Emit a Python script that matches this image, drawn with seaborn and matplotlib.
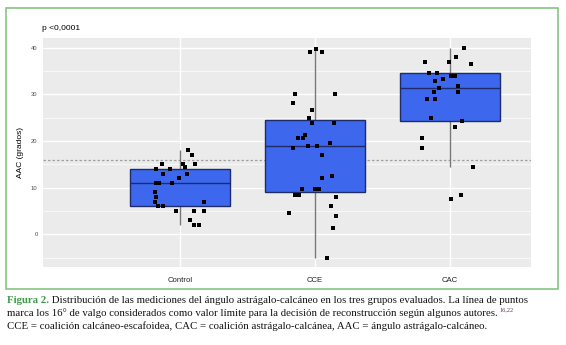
import numpy as np
import pandas as pd
import matplotlib
matplotlib.use("Agg")
import matplotlib.pyplot as plt
from matplotlib.patches import Rectangle
from matplotlib.ticker import MultipleLocator
import seaborn as sns

# ---- data ----
categories = ["Control", "CCE", "CAC"]

control_values = [18, 17, 15, 15, 15, 14.4, 14, 14, 13, 13, 12, 11, 11, 11, 9, 8, 7, 7,
                  6, 6, 5, 5, 5, 3, 2, 2]
control_jitter = [0.057, 0.091, 0.020, 0.111, -0.131, 0.037, -0.180, -0.074, -0.124, 0.052,
                  -0.005, -0.180, -0.156, -0.059, -0.185, -0.180, -0.185, 0.178, -0.161,
                  -0.126, -0.032, 0.104, 0.180, 0.074, 0.106, 0.139]

cce_values = [39.1, 39.7, 39.1, 30.0, 28.1, 30.0, 26.6, 25.0, 23.9, 23.9, 20.7, 20.7, 21.2,
              18.6, 19.0, 19.0, 19.5, 17.0, 12.0, 12.4, 9.8, 9.8, 9.8, 8.4, 8.4, 8.1, 4.5,
              6.0, 4.0, 1.4, -5.0]
cce_jitter = [-0.035, 0.012, 0.052, -0.146, -0.161, 0.148, -0.022, -0.040, -0.020, 0.143,
              -0.122, -0.090, -0.072, -0.163, -0.053, 0.017, 0.111, 0.054, 0.052, 0.126,
              -0.094, 0.002, 0.034, -0.146, -0.114, 0.158, -0.188, 0.123, 0.158, 0.131, 0.091]

cac_values = [40.0, 38.0, 36.9, 36.9, 36.5, 34.5, 34.5, 33.9, 33.9, 33.4, 32.9, 31.9, 31.3,
              30.5, 30.5, 29.0, 29.0, 25.0, 24.4, 23.0, 20.6, 18.6, 14.5, 8.4, 7.5]
cac_jitter = [0.104, 0.050, -0.183, -0.005, 0.156, -0.157, -0.096, 0.011, 0.039, -0.051,
              -0.107, 0.060, -0.076, -0.119, 0.059, -0.166, -0.113, -0.141, 0.091, 0.039,
              -0.204, -0.207, 0.173, 0.085, 0.011]

y_ticks = [0, 10, 20, 30, 40]
threshold = 16
title_text = "p <0,0001"
y_label = "AAC (grados)"

caption_head = "Figura 2."
caption_line1 = ("Distribución de las mediciones del ángulo astrágalo-calcáneo en los tres grupos "
                 "evaluados. La línea de puntos")
caption_line2 = ("marca los 16° de valgo considerados como valor límite para la decisión de "
                 "reconstrucción según algunos autores.")
caption_sup = "16,22"
caption_line3 = ("CCE = coalición calcáneo-escafoidea, CAC = coalición astrágalo-calcánea, "
                 "AAC = ángulo astrágalo-calcáneo.")

# ---- build table ----
groups = {"Control": (control_values, control_jitter),
          "CCE": (cce_values, cce_jitter),
          "CAC": (cac_values, cac_jitter)}
rows = []
for i, cat in enumerate(categories):
    vals, jit = groups[cat]
    for v, j in zip(vals, jit):
        rows.append({"grupo": cat, "aac": v, "pos": i + j})
df = pd.DataFrame(rows)

# ---- figure ----
sns.set_style("white")
plt.rcParams["font.family"] = ["Liberation Sans", "DejaVu Sans"]

W, H = 566, 345
fig = plt.figure(figsize=(W / 100, H / 100), dpi=100)
fig.patch.set_facecolor("white")

left, right, top, bottom = 42.7, 530.7, 38.0, 266.7
ax = fig.add_axes([left / W, 1 - bottom / H, (right - left) / W, (bottom - top) / H])
ax.set_facecolor("#EBEBEB")

sns.boxplot(data=df, x="grupo", y="aac", order=categories, width=0.74, ax=ax,
            showfliers=False, whis=1.5,
            boxprops=dict(facecolor="#3D68EE", edgecolor="#1E2B66", linewidth=1.0, zorder=3),
            medianprops=dict(color="#1E2B66", linewidth=1.0, zorder=4),
            whiskerprops=dict(color="#777777", linewidth=1.0, zorder=2),
            capprops=dict(linewidth=0))

ax.axhline(threshold, color="#A0A0A0", linestyle=(0, (2, 1.6)), linewidth=0.9, zorder=1.5)

sns.scatterplot(data=df, x="pos", y="aac", ax=ax, color="black", s=5.5, linewidth=0,
                marker="s", zorder=5, legend=False)

ax.set_xlim(-1.017, 2.6)
ax.set_ylim(-6.95, 42.1)
ax.set_xticks(range(len(categories)))
ax.set_xticklabels(categories)
ax.set_yticks(y_ticks)
ax.yaxis.set_minor_locator(MultipleLocator(5))
ax.grid(which="major", color="white", linewidth=1.0, zorder=0)
ax.grid(which="minor", axis="y", color="white", linewidth=0.5, zorder=0)
ax.set_axisbelow(True)
for s in ax.spines.values():
    s.set_visible(False)

ax.tick_params(axis="both", which="major", length=2.2, width=0.6, color="#444444",
               labelcolor="#4D4D4D")
ax.tick_params(axis="y", which="major", labelsize=4.2, pad=1.5)
ax.tick_params(axis="x", which="major", labelsize=5.6, pad=5, labelcolor="#222222")
ax.tick_params(axis="y", which="minor", length=0)
ax.set_xlabel("")
ax.set_ylabel(y_label, fontsize=6, color="black", labelpad=5)

fig.text(42 / W, 1 - 28.3 / H, title_text, fontsize=6, ha="left", va="center", color="black")

# green frame
fig.patches.append(Rectangle((6 / W, 1 - 289 / H), (558 - 6) / W, (289 - 8) / H,
                             transform=fig.transFigure, fill=False,
                             edgecolor="#88C383", linewidth=1.2))

# caption
serif = ["Liberation Serif", "DejaVu Serif"]
cap_fs = 7.75
t0 = fig.text(7 / W, 1 - 303 / H, caption_head, fontsize=cap_fs, family=serif,
              fontweight="bold", color="#3C9A48", ha="left", va="baseline")
plt.annotate(" " + caption_line1, xy=(1, 0), xycoords=t0, fontsize=cap_fs,
             family=serif, color="#111111", ha="left", va="bottom",
             annotation_clip=False)
t2 = fig.text(7 / W, 1 - 316 / H, caption_line2, fontsize=cap_fs, family=serif,
              color="#111111", ha="left", va="baseline")
plt.annotate(caption_sup, xy=(1, 0.55), xycoords=t2, fontsize=4.5, family=serif,
             color="#5A3A5A", ha="left", va="bottom", xytext=(1, 0),
             textcoords="offset points", annotation_clip=False)
fig.text(7 / W, 1 - 329 / H, caption_line3, fontsize=cap_fs, family=serif,
         color="#111111", ha="left", va="baseline")

fig.savefig("out.png", dpi=100)
